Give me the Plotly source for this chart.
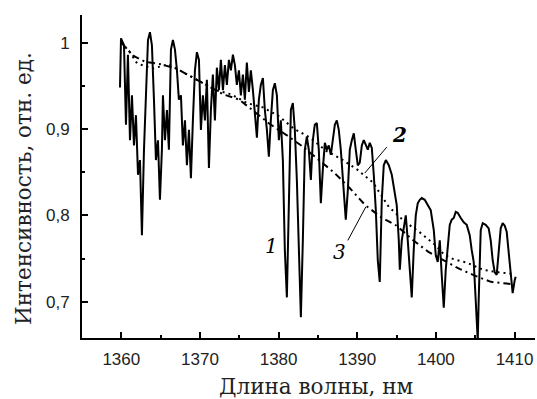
import plotly.graph_objects as go

# Curve 1: measured spectrum
wl1 = [1359.83, 1359.96, 1360.34, 1360.59, 1360.84, 1361.10, 1361.35, 1361.61, 1361.86, 1362.12,
       1362.37, 1362.62, 1362.88, 1363.13, 1363.39, 1363.64, 1363.89, 1364.15, 1364.40, 1364.66,
       1364.91, 1365.16, 1365.29, 1365.55, 1365.80, 1366.05, 1366.31, 1366.56, 1366.82, 1367.07,
       1367.32, 1367.58, 1367.83, 1368.09, 1368.34, 1368.60, 1368.85, 1369.10, 1369.36, 1369.61,
       1369.87, 1370.12, 1370.37, 1370.63, 1370.88, 1371.14, 1371.39, 1371.64, 1371.90, 1372.15,
       1372.41, 1372.66, 1372.92, 1373.17, 1373.42, 1373.68, 1373.93, 1374.19, 1374.44, 1374.69,
       1374.95, 1375.20, 1375.46, 1375.71, 1375.96, 1376.22, 1376.47, 1376.73, 1376.98, 1377.24,
       1377.49, 1377.74, 1378.00, 1378.25, 1378.51, 1378.76, 1379.01, 1379.27, 1379.52, 1379.78,
       1380.03, 1380.28, 1380.54, 1380.79, 1381.05, 1381.30, 1381.56, 1381.81, 1382.06, 1382.32,
       1382.57, 1382.83, 1383.08, 1383.33, 1383.59, 1383.84, 1384.10, 1384.35, 1384.60, 1384.86,
       1385.11, 1385.37, 1385.62, 1385.88, 1386.13, 1386.38, 1386.64, 1386.89, 1387.15, 1387.40,
       1387.65, 1387.91, 1388.16, 1388.54, 1388.80, 1389.05, 1389.31, 1389.56, 1389.81, 1390.07,
       1390.32, 1390.58, 1390.83, 1391.09, 1391.34, 1391.59, 1391.85, 1392.10, 1392.36, 1392.61,
       1392.86, 1393.12, 1393.37, 1393.63, 1394.01, 1394.39, 1394.77, 1395.02, 1395.28, 1395.41,
       1395.66, 1395.91, 1396.17, 1396.42, 1396.68, 1396.93, 1397.18, 1397.44, 1397.69, 1397.95,
       1398.20, 1398.58, 1398.96, 1399.34, 1399.73, 1399.98, 1400.23, 1400.49, 1400.74, 1401.00,
       1401.25, 1401.50, 1401.76, 1402.01, 1402.27, 1402.52, 1402.77, 1403.16, 1403.54, 1403.92,
       1404.30, 1404.55, 1404.81, 1405.06, 1405.32, 1405.44, 1405.57, 1405.70, 1405.95, 1406.33,
       1406.71, 1406.97, 1407.22, 1407.48, 1407.73, 1407.98, 1408.24, 1408.49, 1408.75, 1409.00,
       1409.25, 1409.51, 1409.76, 1410.02, 1410.14]
int1 = [0.948, 1.005, 0.997, 0.905, 0.986, 0.887, 0.939, 0.881, 0.916, 0.847,
        0.864, 0.777, 0.876, 0.945, 1.003, 1.012, 0.997, 0.934, 0.864, 0.887,
        0.818, 0.876, 0.939, 0.887, 0.922, 0.876, 0.992, 1.003, 0.992, 0.968,
        0.934, 0.939, 0.881, 0.910, 0.858, 0.899, 0.843, 0.910, 0.968, 0.989,
        0.980, 0.899, 0.939, 0.910, 0.957, 0.855, 0.922, 0.963, 0.910, 0.971,
        0.945, 0.980, 0.945, 0.974, 0.951, 0.980, 0.968, 0.986, 0.974, 0.951,
        0.968, 0.939, 0.963, 0.934, 0.977, 0.943, 0.968, 0.945, 0.922, 0.890,
        0.934, 0.951, 0.959, 0.922, 0.899, 0.868, 0.910, 0.945, 0.953, 0.939,
        0.887, 0.910, 0.864, 0.760, 0.705, 0.818, 0.922, 0.930, 0.899, 0.841,
        0.760, 0.682, 0.771, 0.876, 0.891, 0.876, 0.841, 0.887, 0.905, 0.907,
        0.876, 0.814, 0.853, 0.884, 0.876, 0.881, 0.870, 0.887, 0.905, 0.910,
        0.899, 0.876, 0.841, 0.795, 0.829, 0.876, 0.887, 0.895, 0.876, 0.858,
        0.861, 0.881, 0.887, 0.881, 0.876, 0.884, 0.878, 0.847, 0.806, 0.748,
        0.723, 0.818, 0.858, 0.864, 0.858, 0.847, 0.824, 0.812, 0.771, 0.737,
        0.771, 0.785, 0.800, 0.771, 0.737, 0.705, 0.760, 0.800, 0.814, 0.818,
        0.820, 0.818, 0.812, 0.806, 0.783, 0.754, 0.746, 0.771, 0.731, 0.693,
        0.737, 0.768, 0.789, 0.795, 0.797, 0.804, 0.803, 0.797, 0.792, 0.789,
        0.777, 0.760, 0.746, 0.702, 0.655, 0.702, 0.760, 0.783, 0.791, 0.789,
        0.785, 0.771, 0.748, 0.734, 0.731, 0.760, 0.785, 0.791, 0.788, 0.781,
        0.760, 0.737, 0.710, 0.725, 0.729]

# Curve 2 (dotted)
wl2 = [1360, 1361, 1362, 1364, 1366, 1368, 1370, 1372, 1374, 1376, 1378, 1380, 1382, 1384,
       1386, 1388, 1390, 1392, 1394, 1396, 1398, 1400, 1401, 1402, 1404, 1406, 1408, 1410]
int2 = [1.0, 0.99, 0.976, 0.97, 0.975, 0.965, 0.955, 0.945, 0.94, 0.93, 0.925, 0.915, 0.9, 0.89,
        0.875, 0.865, 0.853, 0.838, 0.81, 0.793, 0.78, 0.765, 0.755, 0.75, 0.745, 0.737, 0.734, 0.732]

# Curve 3 (dash-dot)
wl3 = [1360, 1361.5, 1363, 1365, 1367, 1369, 1371, 1373, 1375, 1377, 1379, 1381, 1383, 1385,
       1387, 1389, 1391, 1393, 1395, 1397, 1399, 1401, 1403, 1405, 1407, 1409, 1410]
int3 = [1.0, 0.985, 0.978, 0.975, 0.97, 0.96, 0.95, 0.94, 0.934, 0.92, 0.905, 0.893, 0.88, 0.865,
        0.85, 0.832, 0.812, 0.798, 0.788, 0.772, 0.758, 0.748, 0.738, 0.73, 0.723, 0.721, 0.72]

x_ticks = [1360, 1370, 1380, 1390, 1400, 1410]
x_ticktext = ["1360", "1370", "1380", "1390", "1400", "1410"]
y_ticks = [0.7, 0.8, 0.9, 1.0]
y_ticktext = ["0,7", "0,8", "0,9", "1"]

fig = go.Figure()
fig.add_trace(go.Scatter(x=wl3, y=int3, mode="lines",
                         line=dict(color="black", width=2, dash="7px,4px,2px,4px")))
fig.add_trace(go.Scatter(x=wl2, y=int2, mode="lines",
                         line=dict(color="black", width=2, dash="2px,4px")))
fig.add_trace(go.Scatter(x=wl1, y=int1, mode="lines",
                         line=dict(color="black", width=2)))

serif = "DejaVu Serif"
W, H = 537, 399
L, R, T, B = 82, 2, 15, 61
pw, ph = W - L - R, H - T - B

fig.update_layout(
    width=W, height=H,
    margin=dict(l=L, r=R, t=T, b=B),
    paper_bgcolor="white", plot_bgcolor="white",
    showlegend=False,
    xaxis=dict(range=[1355, 1412.6], tickvals=x_ticks, ticktext=x_ticktext,
               ticks="inside", ticklen=6, tickwidth=2, tickcolor="black",
               minor=dict(dtick=5, tick0=1355, ticks="inside", ticklen=3, tickwidth=2, tickcolor="black"),
               showline=True, linecolor="black", linewidth=2, showgrid=False, zeroline=False,
               tickfont=dict(family="Liberation Sans", size=17, color="#222"), ticklabelstandoff=5),
    yaxis=dict(range=[0.658, 1.032], tickvals=y_ticks, ticktext=y_ticktext,
               ticks="inside", ticklen=6, tickwidth=2, tickcolor="black",
               minor=dict(dtick=0.05, tick0=0.65, ticks="inside", ticklen=3, tickwidth=2, tickcolor="black"),
               showline=True, linecolor="black", linewidth=2, showgrid=False, zeroline=False,
               tickfont=dict(family="Liberation Sans", size=17, color="#222"), ticklabelstandoff=7),
)

# axis titles (positioned in paper fractions computed from page pixels)
fig.add_annotation(text="Длина волны, нм", xref="paper", yref="paper",
                   x=(316 - L) / pw, y=-(386 - (H - B)) / ph, xanchor="center", yanchor="middle",
                   showarrow=False, font=dict(family=serif, size=21.5, color="#222"))
fig.add_annotation(text="Интенсивность, отн. ед.", xref="paper", yref="paper",
                   x=-(L - 23) / pw, y=((H - B) - 189) / ph, xanchor="center", yanchor="middle",
                   textangle=-90, showarrow=False, font=dict(family=serif, size=21.5, color="#222"))

# curve labels
fig.add_annotation(text="<i>1</i>", x=1379.1, y=0.764, showarrow=False,
                   font=dict(family=serif, size=20, color="black"))
fig.add_annotation(text="<b><i>2</i></b>", x=1395.4, y=0.893, showarrow=False,
                   font=dict(family=serif, size=20, color="black"))
fig.add_annotation(text="<i>3</i>", x=1387.8, y=0.758, showarrow=False,
                   font=dict(family=serif, size=20, color="black"))
# leader lines
fig.add_shape(type="line", x0=1393.75, y0=0.879, x1=1390.96, y1=0.849,
              line=dict(color="black", width=1))
fig.add_shape(type="line", x0=1388.8, y0=0.771, x1=1391.1, y1=0.810,
              line=dict(color="black", width=1))

fig.write_html("out.html", config={"displayModeBar": False},
               post_script="document.body.style.margin='0';document.body.style.padding='0';")
